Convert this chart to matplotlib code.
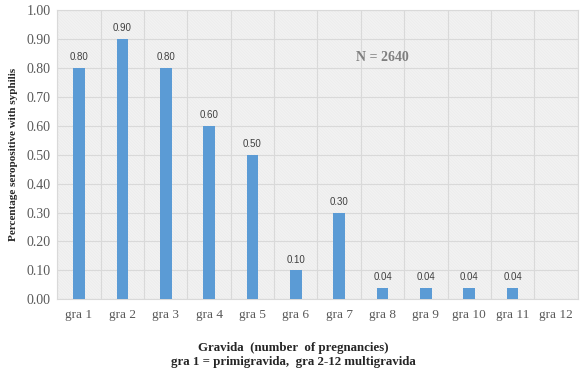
import matplotlib
matplotlib.use("Agg")
import matplotlib.pyplot as plt
import numpy as np

categories = ["gra 1", "gra 2", "gra 3", "gra 4", "gra 5", "gra 6", "gra 7",
              "gra 8", "gra 9", "gra 10", "gra 11", "gra 12"]
values = [0.80, 0.90, 0.80, 0.60, 0.50, 0.10, 0.30, 0.04, 0.04, 0.04, 0.04, None]
yticks = [0.0, 0.1, 0.2, 0.3, 0.4, 0.5, 0.6, 0.7, 0.8, 0.9, 1.0]

plt.rcParams['hatch.color'] = '#e4e4e4'
plt.rcParams['hatch.linewidth'] = 0.35

fig = plt.figure(figsize=(5.86, 3.70), dpi=100)
ax = fig.add_axes([0.0978, 0.191, 0.888, 0.782])

x = np.arange(len(categories))
ax.set_xlim(-0.5, len(categories) - 0.5)
ax.set_ylim(0, 1.0)

# hatched background
ax.patch.set_facecolor('#fafafa')
ax.patch.set_hatch('\\' * 22)
ax.patch.set_edgecolor('#e4e4e4')

# grid
for yv in yticks:
    ax.axhline(yv, color='#d9d9d9', lw=0.8, zorder=1)
for xv in np.arange(-0.5, len(categories), 1.0):
    ax.axvline(xv, color='#d9d9d9', lw=0.8, zorder=1)

vals = [v if v is not None else 0 for v in values]
ax.bar(x, vals, width=0.27, color='#5b9bd5', zorder=3)

for xi, v in zip(x, values):
    if v is None:
        continue
    ax.text(xi, v + 0.02, f"{v:.2f}", ha='center', va='bottom',
            fontsize=7, color='#404040', family='Liberation Sans', zorder=4)

ax.text(7.0, 0.837, "N = 2640", ha='center', va='center', fontsize=10,
        fontweight='bold', family='Liberation Serif', color='#7f7f7f')

ax.set_xticks(x)
ax.set_xticklabels(categories, family='Liberation Serif', fontsize=9.5, color='#595959')
ax.set_yticks(yticks)
ax.set_yticklabels([f"{t:.2f}" for t in yticks], family='Liberation Serif',
                   fontsize=10, color='#595959')
ax.tick_params(length=0, pad=5)
ax.tick_params(axis='x', pad=7)
for s in ax.spines.values():
    s.set_color('#d9d9d9')
    s.set_linewidth(0.8)

ax.set_ylabel("Percentage seropositive with syphilis", family='Liberation Serif',
              fontsize=8, fontweight='bold', color='#262626', labelpad=6)

fig.text(0.5, 0.06, "Gravida  (number  of pregnancies)", ha='center', va='center',
         family='Liberation Serif', fontsize=9.3, fontweight='bold', color='#262626')
fig.text(0.5, 0.022, "gra 1 = primigravida,  gra 2-12 multigravida", ha='center',
         va='center', family='Liberation Serif', fontsize=9.3, fontweight='bold',
         color='#262626')

fig.savefig("out.png", dpi=100)
